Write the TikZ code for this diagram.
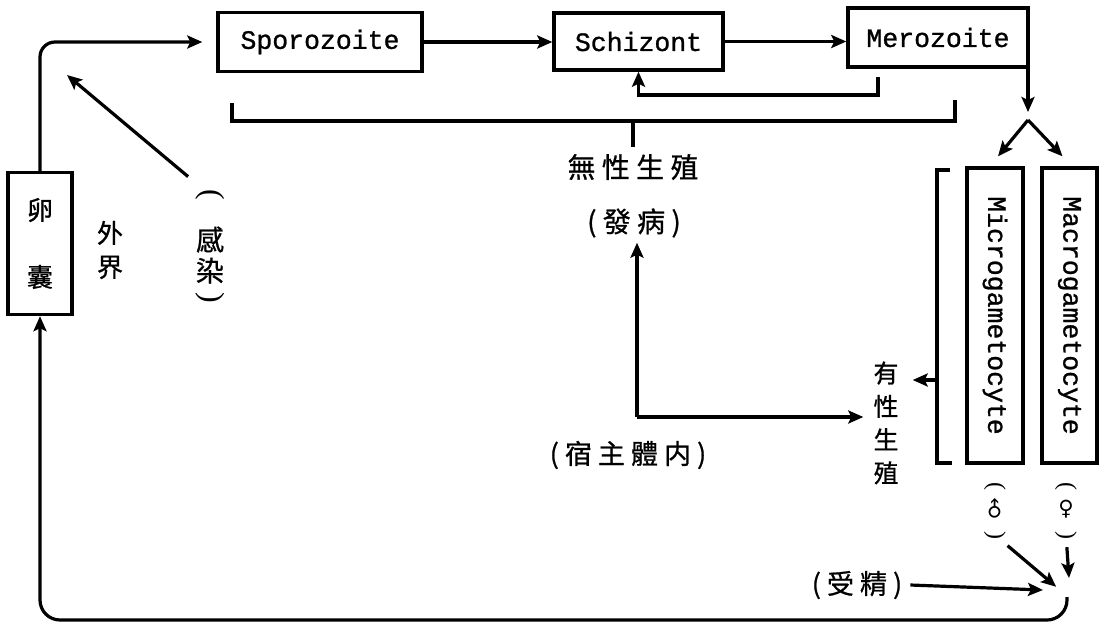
\documentclass[tikz,border=0pt]{standalone}
\usepackage{fontspec}
\setmainfont{Liberation Serif}
\newfontfamily\cjk[FakeBold=0.8]{Noto Sans CJK TC}
\newfontfamily\mono[FakeBold=1]{Liberation Mono}
\newfontfamily\symb{DejaVu Sans}
\usetikzlibrary{arrows.meta}
\begin{document}
\begin{tikzpicture}[x=1pt,y=-1pt,
  stage/.style={draw, line width=3.4pt, inner sep=0pt, font=\mono\fontsize{26.5}{26.5}\selectfont},
  flow/.style={line width=3.2pt, -{Stealth[length=15pt,width=13pt,inset=3pt]}},
  lin/.style={line width=3.2pt},
  zh/.style={inner sep=0pt, font=\cjk\fontsize{27}{27}\selectfont},
  paren/.style={inner sep=0pt, rotate=-90, font=\fontsize{32}{32}\selectfont}]
\useasboundingbox (0,0) rectangle (1105,625);
% asexual stages
\node[stage, minimum width=204pt, minimum height=59pt] (spor) at (320,42) {Sporozoite};
\node[stage, minimum width=169pt, minimum height=57pt] (schiz) at (638.5,41.5) {Schizont};
\node[stage, minimum width=180pt, minimum height=59pt] (mero) at (938,37.5) {Merozoite};
\draw[flow] (spor.east) -- (spor.east -| schiz.west);
\draw[flow] (schiz.east) -- (schiz.east -| mero.west);
\coordinate (mfb) at (878,77);
\draw[flow] (mfb) -- ++(0,18) -| (schiz.south);
% bracket
\coordinate (bl) at (232,103);
\coordinate (br) at (955,100);
\coordinate (stem) at (633,121);
\draw[lin] (bl) |- (stem) -| (br);
\draw[lin] (stem) -- ++(0,26);
\node[zh, font=\cjk\fontsize{28}{28}\selectfont] (asex) at (633,167) {無 性 生 殖};
\node[zh, font=\cjk\fontsize{28}{28}\selectfont] (disease) at (634,223) {(\ 發 病\ )};
\coordinate (host) at (637,417);
\node[zh, font=\cjk\fontsize{25}{33.3}\selectfont, align=center] (sex) at (886,423) {有\\性\\生\\殖};
\draw[flow] (host) -- ([yshift=-5pt]host |- disease.south);
\draw[flow] (host) -- ([xshift=-10pt]sex.west |- host);
\node[zh] (hostbody) at (628,455) {( 宿 主 體 内 )};
% sexual stages
\node[stage, rotate=-90, minimum width=295pt, minimum height=56pt] (micro) at (995,315.5) {Microgametocyte};
\node[stage, rotate=-90, minimum width=295pt, minimum height=55pt] (macro) at (1069.5,315.5) {Macrogametocyte};
\coordinate (split) at (1028,120);
\draw[flow] (mero.south -| split) -- ([yshift=8pt]split);
\draw[flow] (split) -- ([xshift=3pt,yshift=10pt]micro.west);
\draw[flow] (split) -- ([xshift=-7pt,yshift=10pt]macro.west);
\coordinate (gtop) at (950,170);
\coordinate (gmid) at (937,380);
\draw[lin] (gtop) -- (937,170) -- (937,463) -- (952,463);
\draw[flow] (gmid) -- ([xshift=14pt]sex.east |- gmid);
\node[paren, font=\fontsize{24}{24}\selectfont] (mlp) at (995,486) {(};
\node[inner sep=0pt, rotate=45, font=\symb\fontsize{21}{21}\selectfont] (male) at (995,510) {♂};
\node[paren, font=\fontsize{24}{24}\selectfont] (mrp) at (995,535) {)};
\node[paren, font=\fontsize{24}{24}\selectfont] (flp) at (1066,486) {(};
\node[inner sep=0pt, font=\symb\fontsize{21}{21}\selectfont] (female) at (1066,509) {♀};
\node[paren, font=\fontsize{24}{24}\selectfont] (frp) at (1066,535) {)};
\node[zh] (fert) at (857,585) {( 受 精 )};
\coordinate (zyg) at (1060,590);
\draw[flow, shorten <=10pt, shorten >=5pt] (mrp) -- (zyg);
\draw[flow, shorten <=8pt] (frp) -- ([xshift=3pt,yshift=12pt]frp |- zyg);
\draw[flow] ([xshift=8pt]fert.east) -- ([xshift=-17pt]zyg);
% outside the host
\node[draw, line width=3.4pt, minimum width=64pt, minimum height=142pt, inner sep=0pt, align=center,
  font=\cjk\fontsize{26}{67}\selectfont] (oocyst) at (40,243.5) {卵\\囊};
\node[zh, font=\cjk\fontsize{26}{34}\selectfont, align=center] (outside) at (110,250) {外\\界};
\node[paren] (ilp) at (210,195) {(};
\node[zh, font=\cjk\fontsize{28}{31}\selectfont, align=center] (infect) at (210,255) {感\\染};
\node[paren] (irp) at (210,298) {)};
\coordinate (entry) at (67,75);
\draw[flow, shorten <=20pt] (ilp) -- (entry);
\coordinate (ret) at (1067,597);
\draw[flow, rounded corners=20pt] (ret) -- (1067,620) -- (oocyst.south |- 0,620) -- (oocyst.south);
\draw[flow, rounded corners=15pt] (oocyst.north) |- ([xshift=-14pt]spor.west);
\end{tikzpicture}
\end{document}
